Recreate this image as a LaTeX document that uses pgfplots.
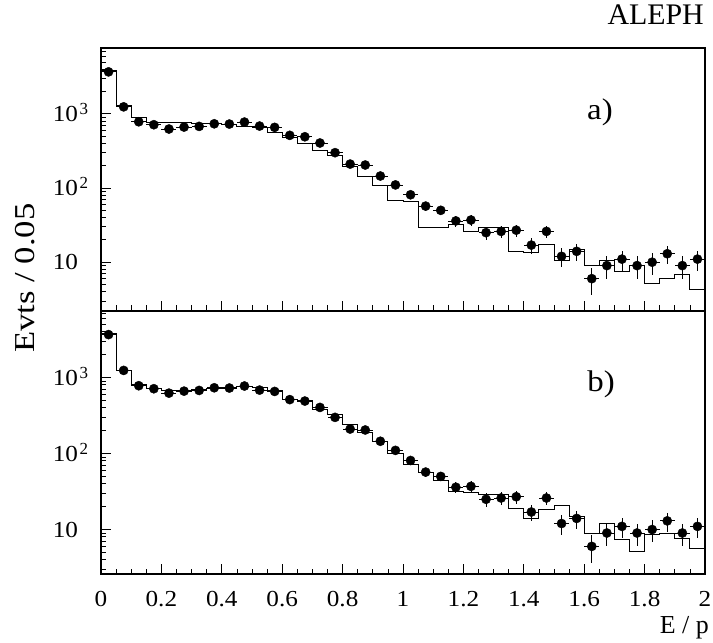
\documentclass[border=0pt]{standalone}
\usepackage{fontspec}
\setmainfont{Liberation Serif}
\usepackage{graphicx}
\usepackage{pgfplots}
\pgfplotsset{compat=1.18}
\usepackage{pgfplotstable}

\pgfplotstableread{
x y ey
0.025 3670 61
0.075 1240 35
0.125 780 28
0.175 712 27
0.225 623 25
0.275 662 26
0.325 676 26
0.375 733 27
0.425 727 27
0.475 773 28
0.525 683 26
0.575 656 26
0.625 512 23
0.675 490 22
0.725 404 20
0.775 299 17
0.825 210 14.5
0.875 204 14.3
0.925 145 12
0.975 110 10.5
1.025 81 9
1.075 57 7.5
1.125 50 7.1
1.175 36 6
1.225 37 6.1
1.275 25 5
1.325 26 5.1
1.375 27 5.2
1.425 17 4.1
1.475 26 5.1
1.525 12 3.5
1.575 14 3.7
1.625 6 2.4
1.675 9 3
1.725 11 3.3
1.775 9 3
1.825 10 3.2
1.875 13 3.6
1.925 9 3
1.975 11 3.3
}\datatab

\pgfplotstableread{
x y
0.00 3860
0.05 1280
0.10 894
0.15 757
0.20 773
0.25 773
0.30 750
0.35 748
0.40 727
0.45 676
0.50 648
0.55 562
0.60 476
0.65 394
0.70 325
0.75 278
0.80 198
0.85 142
0.90 107
0.95 67
1.00 66
1.05 29
1.10 29
1.15 32.5
1.20 25.8
1.25 29
1.30 29
1.35 13.9
1.40 13.5
1.45 17.5
1.50 10.6
1.55 15
1.60 9.1
1.65 10.6
1.70 7.6
1.75 9.1
1.80 5.2
1.85 6.1
1.90 6.9
1.95 4.3
2.00 4.3
}\histatab

\pgfplotstableread{
x y
0.00 3800
0.05 1236
0.10 809
0.15 716
0.20 674
0.25 674
0.30 695
0.35 708
0.40 730
0.45 768
0.50 738
0.55 667
0.60 518
0.65 492
0.70 379
0.75 326
0.80 238
0.85 192
0.90 142
0.95 100
1.00 72
1.05 55.6
1.10 44.6
1.15 31.3
1.20 30.3
1.25 28.9
1.30 28.9
1.35 19.2
1.40 14.2
1.45 18.5
1.50 20.5
1.55 14.7
1.60 8.9
1.65 12
1.70 7.4
1.75 5.1
1.80 8.6
1.85 8.9
1.90 7.6
1.95 5.6
2.00 5.6
}\histbtab

\newcommand{\ticksize}{\fontsize{23}{25}\selectfont}
\newcommand{\tk}[1]{\scalebox{1.1}[1]{#1}}
\newcommand{\ylone}{\makebox[37bp][l]{\tk{10}}}
\newcommand{\ylpow}[1]{\makebox[37bp][l]{\tk{10}\hspace{1.5bp}\smash{\raisebox{7bp}{\fontsize{17}{17}\selectfont #1}}}}

\begin{document}
\begin{tikzpicture}
\begin{axis}[at={(0bp,263bp)}, anchor=south west,
    scale only axis, width=604bp, height=263bp,
    xmin=0, xmax=2, ymode=log, ymin=2.2, ymax=7700,
    tick align=inside, xtick pos=bottom, ytick pos=left,
    xtick={0,0.2,0.4,0.6,0.8,1,1.2,1.4,1.6,1.8,2},
    minor x tick num=3,
    xticklabels={},
    ytick={10,100,1000},
    yticklabels={\ylone,\ylpow{2},\ylpow{3}},
    minor ytick={3,4,5,6,7,8,9,20,30,40,50,60,70,80,90,200,300,400,500,600,700,800,900,2000,3000,4000,5000,6000,7000},
    major tick length=10bp, minor tick length=5.5bp,
    axis line style={line width=1.1bp},
    tick style={black, line width=0.8bp},
    tick label style={font=\ticksize},
    yticklabel style={anchor=east, inner sep=0pt, xshift=-11bp},
    xticklabel style={anchor=north, inner sep=0pt, yshift=-17.5bp}]
  \addplot[black, line width=0.9bp, const plot mark left, mark=none] table[x=x,y=y]{\histatab};
  \addplot[only marks, mark=*, mark size=4.6bp, black,
    error bars/.cd, x dir=both, x fixed=0.025, y dir=both, y explicit,
    error bar style={line width=0.8bp}, error mark=none]
    table[x=x,y=y,y error=ey]{\datatab};
\end{axis}
\begin{axis}[at={(0bp,0bp)}, anchor=south west,
    scale only axis, width=604bp, height=263bp,
    xmin=0, xmax=2, ymode=log, ymin=2.6, ymax=7500,
    tick align=inside, xtick pos=bottom, ytick pos=left,
    xtick={0,0.2,0.4,0.6,0.8,1,1.2,1.4,1.6,1.8,2},
    minor x tick num=3,
    xticklabels={\tk{0},\tk{0.2},\tk{0.4},\tk{0.6},\tk{0.8},\tk{1},\tk{1.2},\tk{1.4},\tk{1.6},\tk{1.8},\tk{2}},
    ytick={10,100,1000},
    yticklabels={\ylone,\ylpow{2},\ylpow{3}},
    minor ytick={3,4,5,6,7,8,9,20,30,40,50,60,70,80,90,200,300,400,500,600,700,800,900,2000,3000,4000,5000,6000,7000},
    major tick length=10bp, minor tick length=5.5bp,
    axis line style={line width=1.1bp},
    tick style={black, line width=0.8bp},
    tick label style={font=\ticksize},
    yticklabel style={anchor=east, inner sep=0pt, xshift=-11bp},
    xticklabel style={anchor=north, inner sep=0pt, yshift=-17.5bp}]
  \addplot[black, line width=0.9bp, const plot mark left, mark=none] table[x=x,y=y]{\histbtab};
  \addplot[only marks, mark=*, mark size=4.6bp, black,
    error bars/.cd, x dir=both, x fixed=0.025, y dir=both, y explicit,
    error bar style={line width=0.8bp}, error mark=none]
    table[x=x,y=y,y error=ey]{\datatab};
\end{axis}
\node[anchor=base east, inner sep=0pt, font=\fontsize{30}{32}\selectfont] at (603bp,549bp) {ALEPH};
\node[anchor=base, inner sep=0pt, font=\fontsize{30}{32}\selectfont] at (499bp,454bp) {\scalebox{1.1}[1]{a)}};
\node[anchor=base, inner sep=0pt, font=\fontsize{30}{32}\selectfont] at (500bp,182bp) {\scalebox{1.1}[1]{b)}};
\node[anchor=base east, inner sep=0pt, font=\fontsize{26}{28}\selectfont] at (608bp,-59bp) {E / p};
\node[rotate=90, inner sep=0pt, font=\fontsize{29}{31}\selectfont] at (-76bp,296bp) {\scalebox{1.2}[1]{Evts / 0.05}};
\pgfresetboundingbox
\path[use as bounding box] (-101bp,-69bp) rectangle (612bp,574bp);
\end{tikzpicture}
\end{document}
